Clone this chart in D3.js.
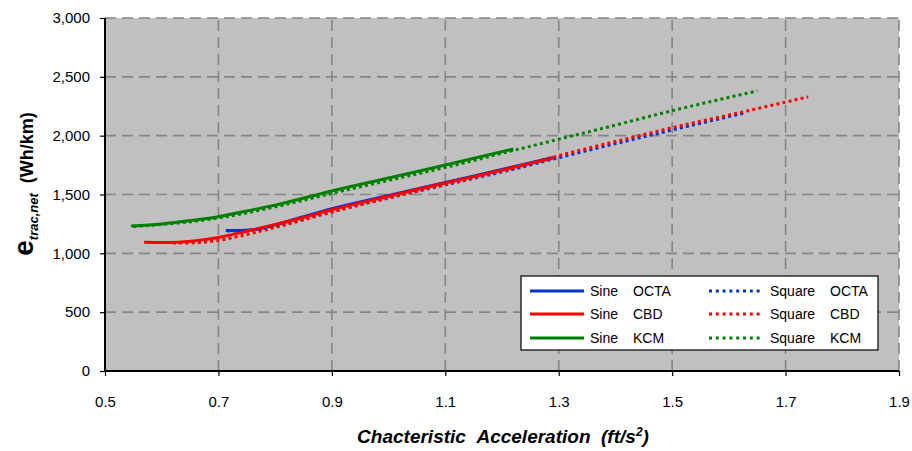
<!DOCTYPE html>
<html><head><meta charset="utf-8">
<script src="https://cdn.jsdelivr.net/npm/d3@7"></script>
<style>
body{margin:0;background:#fff;}
text{font-family:"Liberation Sans",Arial,sans-serif;fill:#000;}
</style>
</head><body>
<svg id="c" width="912" height="451"></svg>
<script>
// ---- data ----
const xTicks = [0.5, 0.7, 0.9, 1.1, 1.3, 1.5, 1.7, 1.9];
const yTicks = [0, 500, 1000, 1500, 2000, 2500, 3000];

const sineOctaX = [0.713, 0.735, 0.76, 0.8, 0.85, 0.9, 1.0, 1.1, 1.2, 1.29];
const sineOctaY = [1195, 1195, 1200, 1242, 1312, 1379, 1492, 1603, 1712, 1815];

const sineCbdX = [0.569, 0.6, 0.63, 0.66, 0.7, 0.75, 0.8, 0.85, 0.9, 1.0, 1.1, 1.2, 1.29];
const sineCbdY = [1095, 1093, 1095, 1108, 1135, 1188, 1245, 1305, 1370, 1485, 1597, 1707, 1810];

const sineKcmX = [0.546, 0.6, 0.65, 0.7, 0.75, 0.8, 0.9, 1.0, 1.1, 1.22];
const sineKcmY = [1232, 1250, 1278, 1311, 1360, 1410, 1530, 1640, 1750, 1887];

const squareOctaX = [0.715, 0.75, 0.8, 0.9, 1.0, 1.1, 1.2, 1.3, 1.4, 1.5, 1.629];
const squareOctaY = [1190, 1195, 1230, 1360, 1472, 1582, 1692, 1812, 1932, 2048, 2195];

const squareCbdX = [0.62, 0.645, 0.7, 0.75, 0.8, 0.9, 1.0, 1.1, 1.2, 1.3, 1.4, 1.5, 1.6, 1.74];
const squareCbdY = [1088, 1088, 1110, 1160, 1220, 1350, 1470, 1585, 1700, 1830, 1950, 2068, 2175, 2330];

const squareKcmX = [0.55, 0.6, 0.7, 0.8, 0.9, 1.0, 1.1, 1.2, 1.3, 1.4, 1.5, 1.65];
const squareKcmY = [1228, 1245, 1300, 1395, 1510, 1620, 1730, 1850, 1970, 2090, 2212, 2380];

const seriesNames = ["Sine", "Sine", "Sine", "Square", "Square", "Square"];
const routeNames = ["OCTA", "CBD", "KCM", "OCTA", "CBD", "KCM"];
const colors = ["#0033cc", "#ff0000", "#008000", "#0033cc", "#ff0000", "#008000"];

const series = [
  {x: squareOctaX, y: squareOctaY, c: colors[3], dotted: true},
  {x: squareCbdX, y: squareCbdY, c: colors[4], dotted: true},
  {x: squareKcmX, y: squareKcmY, c: colors[5], dotted: true},
  {x: sineOctaX, y: sineOctaY, c: colors[0], dotted: false},
  {x: sineCbdX, y: sineCbdY, c: colors[1], dotted: false},
  {x: sineKcmX, y: sineKcmY, c: colors[2], dotted: false}
];

// ---- layout ----
const L = 105, R = 899, T = 18, B = 371;
const svg = d3.select("#c");
const x = d3.scaleLinear().domain([0.5, 1.9]).range([L, R]);
const y = d3.scaleLinear().domain([0, 3000]).range([B, T]);

svg.append("rect").attr("x", L).attr("y", T).attr("width", R - L).attr("height", B - T).attr("fill", "#c0c0c0");

// grid
const grid = svg.append("g").attr("stroke", "#858585").attr("stroke-width", 1.6).attr("stroke-dasharray", "11,6");
grid.selectAll(".gx").data(xTicks.slice(1)).join("line")
  .attr("x1", d => x(d)).attr("x2", d => x(d)).attr("y1", B).attr("y2", T);
grid.selectAll(".gy").data(yTicks.slice(1)).join("line")
  .attr("y1", d => y(d)).attr("y2", d => y(d)).attr("x1", L).attr("x2", R);

// axes
const xAxis = d3.axisBottom(x).tickValues(xTicks).tickFormat(d3.format(".1f")).tickSize(5).tickPadding(20);
const yAxis = d3.axisLeft(y).tickValues(yTicks).tickFormat(d3.format(",")).tickSize(5).tickPadding(10);
const gx = svg.append("g").attr("transform", `translate(0,${B})`).call(xAxis);
const gy = svg.append("g").attr("transform", `translate(${L},0)`).call(yAxis);
[gx, gy].forEach(g => {
  g.select(".domain").attr("stroke", "#000").attr("stroke-width", 2);
  g.selectAll(".tick line").attr("stroke", "#000").attr("stroke-width", 1.2);
  g.selectAll(".tick text").attr("font-size", 15).attr("font-family", "Liberation Sans, Arial, sans-serif").attr("fill", "#000");
});
gx.select(".domain").attr("d", `M${L},0H${R}`);
gy.select(".domain").attr("d", `M0,${B}V${T}`);

// lines
const line = d3.line().x(d => x(d[0])).y(d => y(d[1])).curve(d3.curveMonotoneX);
series.forEach(s => {
  const pts = s.x.map((v, i) => [v, s.y[i]]);
  svg.append("path").datum(pts).attr("d", line).attr("fill", "none")
    .attr("stroke", s.c).attr("stroke-width", 3)
    .attr("stroke-dasharray", s.dotted ? "3,3.2" : null);
});

// legend
const lg = svg.append("g");
lg.append("rect").attr("x", 521).attr("y", 276).attr("width", 357).attr("height", 74)
  .attr("fill", "#fff").attr("stroke", "#000").attr("stroke-width", 1.2);
const rowsY = [291, 314, 338];
for (let i = 0; i < 6; i++) {
  const col = i < 3 ? 0 : 1, row = i % 3;
  const ry = rowsY[row];
  const lx0 = col === 0 ? 530 : 709, lx1 = col === 0 ? 584 : 763;
  lg.append("line").attr("x1", lx0).attr("x2", lx1).attr("y1", ry).attr("y2", ry)
    .attr("stroke", colors[i]).attr("stroke-width", 3)
    .attr("stroke-dasharray", col === 1 ? "3,3.8" : null);
  lg.append("text").attr("x", col === 0 ? 590 : 770).attr("y", ry + 5).attr("font-size", 14).text(seriesNames[i]);
  lg.append("text").attr("x", col === 0 ? 633 : 830).attr("y", ry + 5).attr("font-size", 14).text(routeNames[i]);
}

// axis titles
const xt = svg.append("text").attr("x", 503).attr("y", 443).attr("text-anchor", "middle")
  .attr("font-size", 19).attr("font-weight", "bold").attr("font-style", "italic");
xt.append("tspan").text("Chacteristic\u00a0\u00a0Acceleration\u00a0\u00a0(ft/s");
xt.append("tspan").attr("font-size", 12).attr("dy", -7).text("2");
xt.append("tspan").attr("dy", 7).text(")");

const yt = svg.append("text").attr("transform", "translate(33,184) rotate(-90)").attr("text-anchor", "middle")
  .attr("font-weight", "bold");
yt.append("tspan").attr("font-size", 28).text("e");
yt.append("tspan").attr("font-size", 13).attr("font-style", "italic").attr("dy", 5).text("trac,net");
yt.append("tspan").attr("font-size", 18).attr("dy", -5).text("\u00a0\u00a0(Wh/km)");
</script>
</body></html>
